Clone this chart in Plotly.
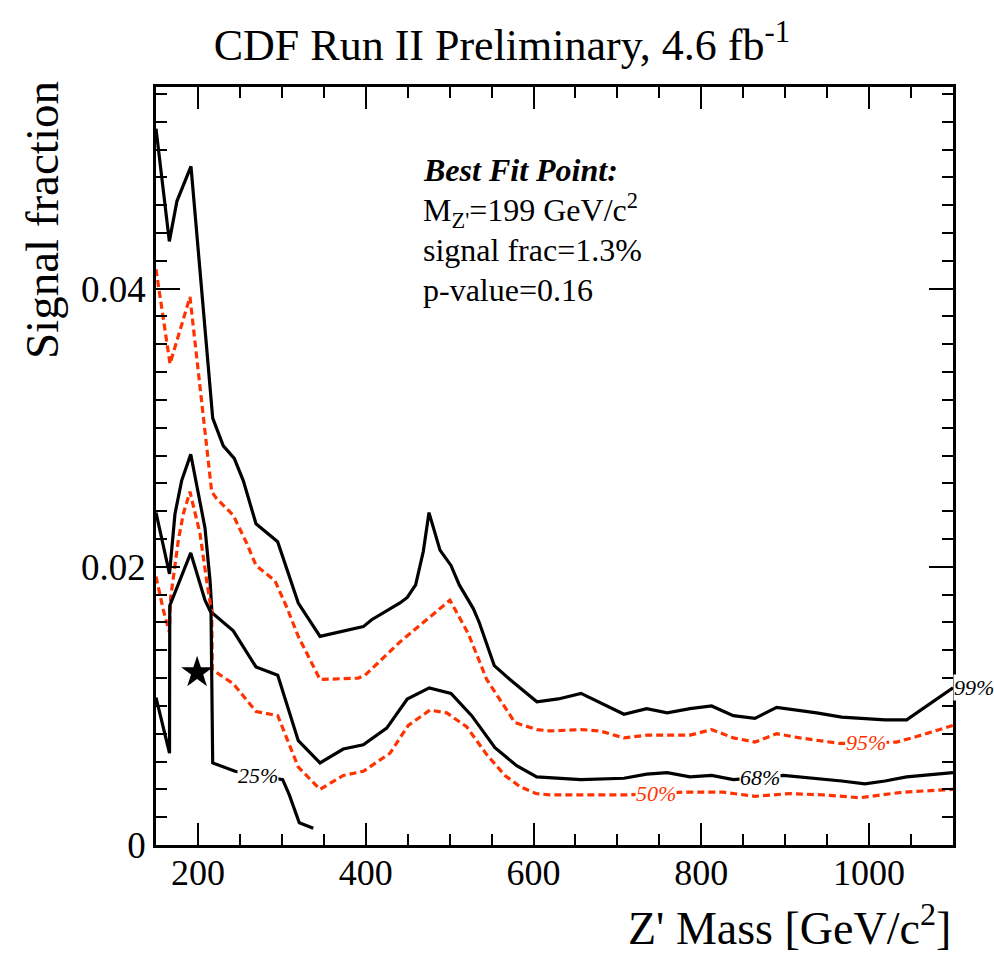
import numpy as np
import plotly.graph_objects as go

# ---- data ----
x99 = [150, 165.9, 175, 191.7, 217.6, 230.2, 243.3, 254, 269.2, 295, 319.6, 345.5, 397.1, 407.1,
       440.8, 449.5, 459.5, 468.6, 475.4, 488.5, 501.6, 511.5, 528.2, 535.3, 553.2, 571.9, 604,
       619.6, 629.5, 656.6, 707.8, 734.9, 759.4, 786.5, 812.3, 838.1, 863.9, 889.8, 917.5, 937.5,
       967.3, 995, 1018.9, 1044.7, 1100]
y99 = [0.0515, 0.0434, 0.0463, 0.0488, 0.0307, 0.0287, 0.0278, 0.0262, 0.0231, 0.0218, 0.0174,
       0.0150, 0.0157, 0.0162, 0.0174, 0.0178, 0.0187, 0.0211, 0.0239, 0.0212, 0.0201, 0.0187,
       0.0170, 0.0160, 0.0129, 0.0119, 0.0103, 0.0104, 0.0105, 0.0109, 0.0094, 0.0098, 0.0095,
       0.0098, 0.0100, 0.0093, 0.0091, 0.0099, 0.0097, 0.0095, 0.0092, 0.0091, 0.0090, 0.0090,
       0.0113]

x95 = [150, 166.7, 190.5, 216.4, 222.3, 242.1, 258.1, 269.2, 291.8, 305.8, 319.6, 345.5, 391.1,
       399.1, 440.8, 500.4, 522.2, 544.2, 577.9, 604, 619.6, 656.6, 679.2, 707.8, 734.9, 786.5,
       812.3, 838.1, 863.9, 889.8, 917.5, 965.2, 1032.8, 1056.6, 1100]
y95 = [0.0414, 0.0346, 0.0394, 0.0254, 0.0249, 0.0237, 0.0217, 0.0201, 0.0190, 0.0171, 0.0150,
       0.0119, 0.0120, 0.0122, 0.0146, 0.0176, 0.0152, 0.0119, 0.0088, 0.0083, 0.0082, 0.0083,
       0.0082, 0.0077, 0.0079, 0.0079, 0.0083, 0.0077, 0.0074, 0.0080, 0.0077, 0.0073, 0.0074,
       0.0078, 0.0086]

x68 = [150, 166.1, 172.6, 180.6, 191.4, 208.4, 214.4, 216.7, 242.1, 269.2, 295.1, 319.6, 345.5,
       373.2, 397.1, 425, 449.5, 475.7, 501.6, 526.3, 554, 579.9, 603.8, 656.6, 707.8, 734.9,
       759.4, 786.5, 812.3, 838.1, 897.7, 937.5, 967.3, 995, 1018.9, 1044.7, 1100]
y68 = [0.0239, 0.0195, 0.0238, 0.0262, 0.0281, 0.0228, 0.0190, 0.0167, 0.0154, 0.0128, 0.0122,
       0.0075, 0.0059, 0.0069, 0.0072, 0.0084, 0.0105, 0.0113, 0.0109, 0.0093, 0.0070, 0.0057,
       0.0049, 0.0047, 0.0048, 0.0051, 0.0052, 0.0049, 0.0050, 0.0047, 0.0050, 0.0048, 0.0046,
       0.0044, 0.0046, 0.0049, 0.0052]

x50 = [150, 158.7, 165.9, 167.5, 176.6, 182.5, 190.5, 202.4, 210.4, 216.4, 217.1, 242.1, 269.2,
       295.1, 319.6, 345.5, 373.2, 397.1, 428.9, 450.7, 476.6, 496.5, 520.3, 544.2, 566, 583.8,
       602.9, 619.6, 711, 778.5, 826.2, 863.9, 905.6, 945.3, 989.1, 1040.7, 1100]
y50 = [0.0193, 0.0169, 0.0153, 0.0178, 0.0219, 0.0238, 0.0254, 0.0224, 0.0190, 0.0167, 0.0126,
       0.0116, 0.0096, 0.0093, 0.0056, 0.0040, 0.0050, 0.0053, 0.0066, 0.0086, 0.0097, 0.0095,
       0.0085, 0.0065, 0.0050, 0.0042, 0.0037, 0.0036, 0.0036, 0.0038, 0.0038, 0.0035, 0.0037,
       0.0036, 0.0034, 0.0038, 0.0040]

x25 = [150, 166.1, 166.4, 176.6, 191.4, 208.4, 215.6, 217.6, 244.2, 301, 308.9, 320.8, 337.5]
y25 = [0.0106, 0.0066, 0.0172, 0.0188, 0.0210, 0.0176, 0.0167, 0.0059, 0.0053, 0.0047, 0.0036,
       0.0016, 0.0012]

best_mass = [199]
best_frac = [0.0124]

x_ticks = [200, 400, 600, 800, 1000]
y_ticks = [0, 0.02, 0.04]
y_ticklabels = ["0", "0.02", "0.04"]

RED = "#ff3300"
SERIF = "Liberation Serif, Times New Roman, serif"
DASH = "7px,4px"

fig = go.Figure()

contours = [
    (x99, y99, "black", "solid"),
    (x95, y95, RED, DASH),
    (x68, y68, "black", "solid"),
    (x50, y50, RED, DASH),
    (x25, y25, "black", "solid"),
]
for xs, ys, col, dash in contours:
    fig.add_trace(go.Scatter(x=xs, y=ys, mode="lines",
                             line=dict(color=col, width=3.2, dash=dash),
                             showlegend=False, hoverinfo="skip"))

fig.add_trace(go.Scatter(x=best_mass, y=best_frac, mode="markers",
                         marker=dict(symbol="star", size=24, color="black"),
                         showlegend=False))

# contour labels placed on the curves
labels = [
    ("25%", 271.6, x25, y25, "black"),
    ("50%", 746, x50, y50, RED),
    ("68%", 870, x68, y68, "black"),
    ("95%", 996, x95, y95, RED),
]
for txt, lx, xs, ys, col in labels:
    fig.add_annotation(x=lx, y=float(np.interp(lx, xs, ys)), xref="x", yref="y",
                       text=f"<i>{txt}</i>", showarrow=False,
                       font=dict(family=SERIF, size=22, color=col),
                       bgcolor="white", borderpad=0)
fig.add_annotation(x=x99[-1], y=y99[-1], xref="x", yref="y", text="<i>99%</i>",
                   showarrow=False, xanchor="left", font=dict(family=SERIF, size=22, color="black"),
                   bgcolor="white", borderpad=0)

# best-fit text box
box = ["<b><i>Best Fit Point:</i></b>",
       "M<sub>Z'</sub>=199 GeV/c<sup>2</sup>",
       "signal frac=1.3%",
       "p-value=0.16"]
for i, t in enumerate(box):
    fig.add_annotation(x=0.3325, y=0.8905 - i * 0.0528, xref="paper", yref="paper",
                       text=t, showarrow=False, xanchor="left", yanchor="middle",
                       font=dict(family=SERIF, size=32, color="black"))

# axis titles
fig.add_annotation(x=-0.143, y=0.8245, xref="paper", yref="paper", text="Signal fraction",
                   textangle=-90, showarrow=False, xanchor="center", yanchor="middle",
                   font=dict(family=SERIF, size=47, color="black"))
fig.add_annotation(x=1.0, y=-0.105, xref="paper", yref="paper",
                   text="Z' Mass [GeV/c<sup>2</sup>]", showarrow=False,
                   xanchor="right", yanchor="middle",
                   font=dict(family=SERIF, size=46, color="black"))

fig.update_layout(
    width=994, height=956,
    margin=dict(l=156, r=41, t=87, b=111),
    paper_bgcolor="white", plot_bgcolor="white",
    title=dict(text="CDF Run II Preliminary, 4.6 fb<sup>-1</sup>",
               x=0.505, xanchor="center", y=0.953, yanchor="middle",
               font=dict(family=SERIF, size=44, color="black")),
    font=dict(family=SERIF, color="black"),
)
fig.update_xaxes(range=[150, 1100], tickvals=x_ticks, showgrid=False, zeroline=False,
                 showline=True, linecolor="black", linewidth=2.5, mirror="ticks",
                 ticks="inside", ticklen=22, tickwidth=2, tickcolor="black",
                 ticklabelstandoff=-6,
                 tickfont=dict(family=SERIF, size=36, color="black"),
                 minor=dict(dtick=50, tick0=0, ticks="inside", ticklen=11, tickwidth=1.5,
                            tickcolor="black", showgrid=False))
fig.update_yaxes(range=[0, 0.0545], tickvals=y_ticks, ticktext=y_ticklabels, showgrid=False,
                 zeroline=False, showline=True, linecolor="black", linewidth=2.5,
                 mirror="ticks", ticks="inside", ticklen=24, tickwidth=2, tickcolor="black",
                 tickfont=dict(family=SERIF, size=37, color="black"),
                 minor=dict(dtick=0.002, tick0=0, ticks="inside", ticklen=11, tickwidth=1.5,
                            tickcolor="black", showgrid=False))

fig.write_html("out.html")
